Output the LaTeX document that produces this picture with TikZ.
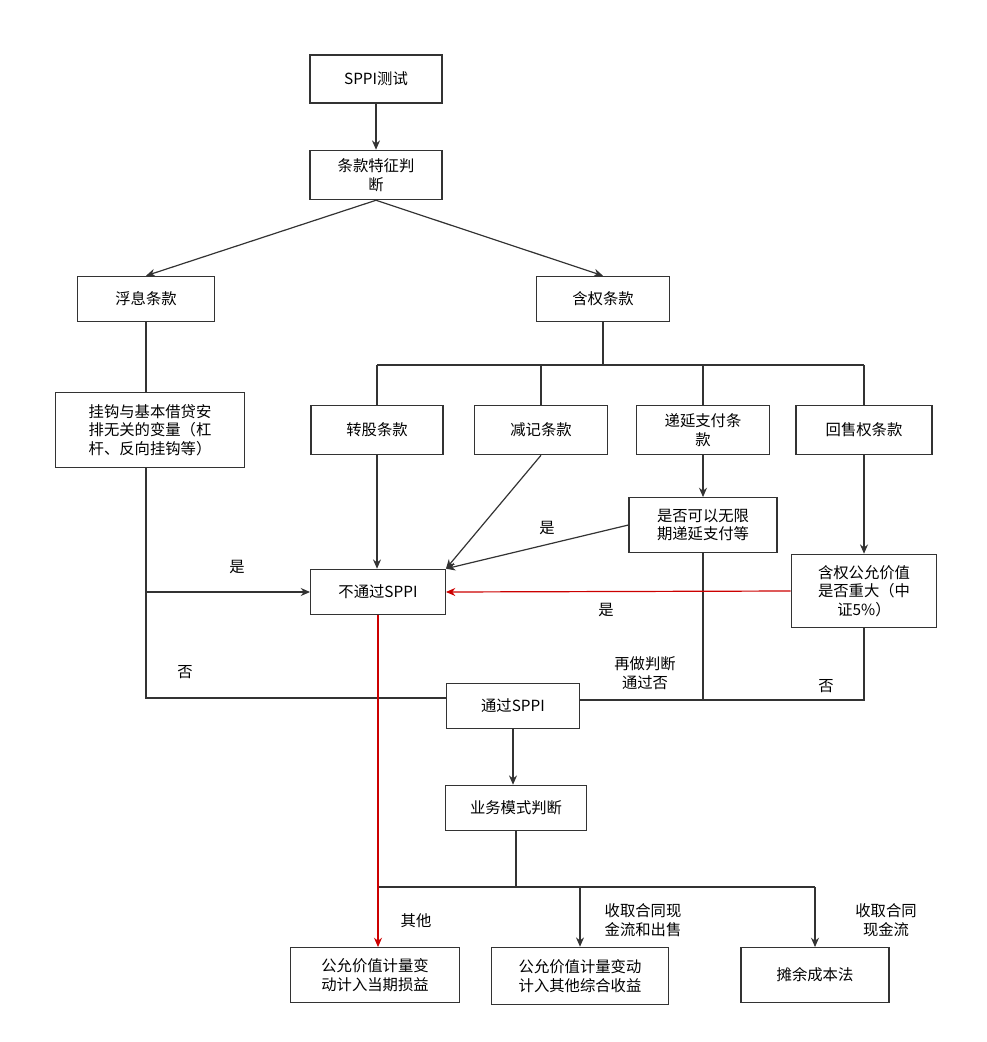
\documentclass[tikz,border=0pt]{standalone}
\usepackage{fontspec}
\setmainfont{Noto Sans CJK SC}
\usetikzlibrary{arrows.meta}
\begin{document}
\begin{tikzpicture}[x=0.75pt,y=-0.75pt,
 box/.style={draw=black!80,line width=0.9pt,minimum width=#1,inner sep=2pt,align=center,font=\fontsize{11.5}{14}\selectfont},
 ln/.style={draw=black!80,line width=0.9pt},
 ar/.style={ln,-{Stealth[length=7pt,width=6pt]}},
 red/.style={draw=red!80!black,line width=0.9pt,-{Stealth[length=7pt,width=6pt]}},
 lab/.style={font=\fontsize{11.5}{14}\selectfont,align=center}]
\useasboundingbox (0,0) rectangle (986,1042);
\node[box=99pt,minimum height=36pt] (s) at (376,79) {SPPI测试};
\node[box=99pt,minimum height=37pt,text width=88pt] (t) at (376,175) {条款特征判\\断};
\node[box=103pt,minimum height=34pt] (f) at (146,299) {浮息条款};
\node[box=100pt,minimum height=34pt] (h) at (603,299) {含权条款};
\node[box=142pt,minimum height=56pt,text width=134pt] (g) at (150,430) {挂钩与基本借贷安\\排无关的变量（杠\\杆、反向挂钩等）};
\node[box=99pt,minimum height=37pt] (z) at (377,430) {转股条款};
\node[box=100pt,minimum height=37pt] (j) at (541,430) {减记条款};
\node[box=100pt,minimum height=37pt] (d) at (703,430) {递延支付条\\款};
\node[box=102pt,minimum height=37pt] (hs) at (864,430) {回售权条款};
\node[box=111pt,minimum height=41pt] (q) at (703,525) {是否可以无限\\期递延支付等};
\node[box=109pt,minimum height=55pt] (hq) at (864,591) {含权公允价值\\是否重大（中\\证5\%）};
\node[box=101pt,minimum height=34pt] (n) at (378,592) {不通过SPPI};
\node[box=100pt,minimum height=34pt] (p) at (513,706) {通过SPPI};
\node[box=106pt,minimum height=34pt] (y) at (516,808) {业务模式判断};
\node[box=127pt,minimum height=41pt] (o1) at (375,975) {公允价值计量变\\动计入当期损益};
\node[box=133pt,minimum height=43pt] (o2) at (580,976) {公允价值计量变动\\计入其他综合收益};
\node[box=111pt,minimum height=41pt] (o3) at (815,975) {摊余成本法};
\coordinate (hb) at (603,365);
\draw[ar] (s) -- (t);
\draw[ar] (t.south) -- (f.north);
\draw[ar] (t.south) -- (h.north);
\draw[ln] (h.south) -- (hb);
\draw[ln] (z.north|-hb) -- (hs.north|-hb);
\foreach \b in {z,j,d,hs} \draw[ln] (\b.north|-hb) -- (\b.north);
\draw[ln] (f.south) -- (f.south|-g.north);
\draw[ln] (146,467) -- (146,698) -- (p.west|-0,698);
\draw[ar] (146,592) -- (n.west);
\node[lab] at (237,567) {是};
\node[lab] at (185,672) {否};
\draw[ar] (z) -- (z|-n.north);
\draw[ar] (j.south) -- (n.north east);
\draw[ar] (d) -- (q);
\draw[ar] (q.west) -- (n.north east);
\node[lab] at (547,528) {是};
\draw[ln] (q.south) -- (703,700) -- (p.east|-0,700);
\node[lab] at (645,673) {再做判断\\通过否};
\draw[ar] (hs) -- (hq);
\draw[red] (hq.west) -- (n.east);
\node[lab] at (606,610) {是};
\draw[ln] (hq.south) -- (864,700) -- (703,700);
\node[lab] at (826,686) {否};
\draw[ln] (y.south) -- (516,887);
\draw[ln] (378,887) -- (815,887);
\draw[red] (n.south) -- (n.south|-o1.north);
\node[lab] at (416,921) {其他};
\draw[ar] (p) -- (p|-y.north);
\draw[ar] (580,887) -- (o2.north);
\draw[ar] (815,887) -- (o3.north);
\node[lab] at (643,920) {收取合同现\\金流和出售};
\node[lab] at (886,920) {收取合同\\现金流};
\end{tikzpicture}
\end{document}
